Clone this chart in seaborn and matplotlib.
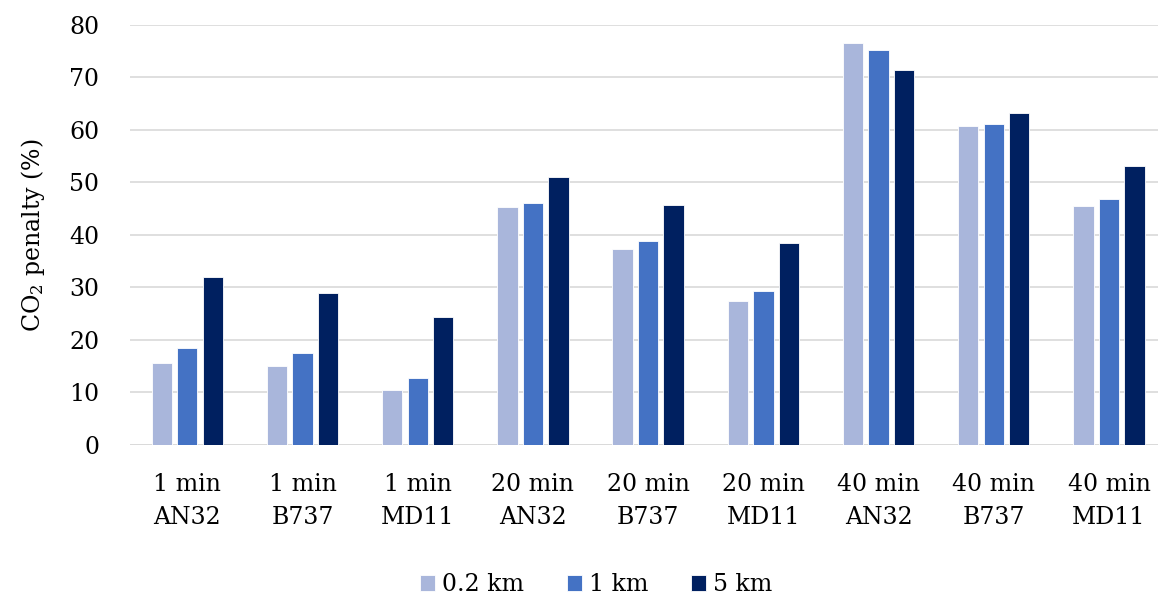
import matplotlib
matplotlib.use("Agg")
import matplotlib.pyplot as plt
import seaborn as sns
import pandas as pd

# Categories: duration / aircraft type
categories = ["1 min\nAN32", "1 min\nB737", "1 min\nMD11",
              "20 min\nAN32", "20 min\nB737", "20 min\nMD11",
              "40 min\nAN32", "40 min\nB737", "40 min\nMD11"]
series_names = ["0.2 km", "1 km", "5 km"]
penalty_02km = [15.6, 15.1, 10.5, 45.3, 37.4, 27.5, 76.6, 60.7, 45.5]
penalty_1km = [18.5, 17.6, 12.8, 46.0, 38.8, 29.4, 75.1, 61.1, 46.8]
penalty_5km = [31.9, 28.9, 24.3, 51.0, 45.6, 38.4, 71.4, 63.2, 53.2]
yticks = [0, 10, 20, 30, 40, 50, 60, 70, 80]

palette = ["#A9B6DB", "#4472C4", "#002060"]

df = pd.DataFrame({
    "category": categories * 3,
    "distance": [series_names[0]] * 9 + [series_names[1]] * 9 + [series_names[2]] * 9,
    "penalty": penalty_02km + penalty_1km + penalty_5km,
})

sns.set_theme(style="white")
plt.rcParams["font.family"] = ["DejaVu Serif"]
plt.rcParams["mathtext.fontset"] = "dejavuserif"
plt.rcParams["text.color"] = "black"
plt.rcParams["axes.labelcolor"] = "black"

fig = plt.figure(figsize=(11.58, 5.97), dpi=100)
ax = fig.add_axes([0.112, 0.2546, 0.8954, 0.704])

sns.barplot(data=df, x="category", y="penalty", hue="distance",
            order=categories, hue_order=series_names, palette=palette,
            width=0.664, gap=0.2, saturation=1, errorbar=None,
            edgecolor="white", linewidth=0.6, ax=ax, zorder=3)

ax.set_ylim(0, 80)
ax.set_xlim(-0.5, 8.5)
ax.set_yticks(yticks)
ax.yaxis.grid(True, color="#D9D9D9", linewidth=1.2, zorder=0)
ax.xaxis.grid(False)
for s in ax.spines.values():
    s.set_visible(False)
ax.axhline(0, color="#D9D9D9", linewidth=1.2, zorder=1)

ax.tick_params(axis="y", length=0, pad=22, labelsize=17, colors="black")
ax.tick_params(axis="x", length=0, pad=20, labelsize=17, colors="black")
for lbl in ax.get_xticklabels():
    lbl.set_linespacing(1.55)
ax.set_xlabel("")
ax.set_ylabel("CO$_\\mathrm{2}$ penalty (%)", fontsize=17, labelpad=16)

ax.legend(loc="center", bbox_to_anchor=(0.45, -0.332), ncol=3,
          frameon=False, fontsize=17, handlelength=0.65, handleheight=0.65,
          handletextpad=0.3, columnspacing=1.8, title=None)

fig.savefig("out.png", dpi=100)
